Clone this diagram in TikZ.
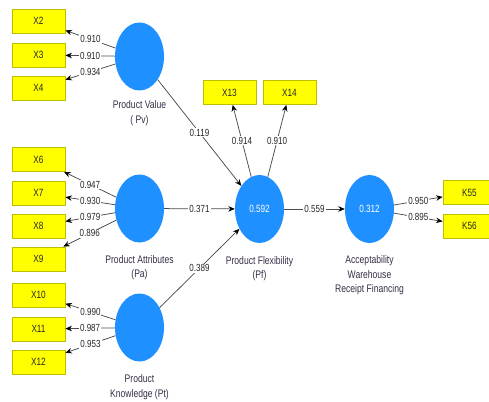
\documentclass[tikz,border=0pt]{standalone}
\usepackage{fontspec}
\setmainfont{Liberation Sans}[FakeStretch=0.78]
\usetikzlibrary{shapes.geometric,arrows.meta}
\definecolor{lvblue}{RGB}{30,144,255}
\definecolor{mvyellow}{RGB}{255,255,0}
\definecolor{mvborder}{RGB}{190,190,0}
\definecolor{txt}{RGB}{55,45,70}
\begin{document}
\begin{tikzpicture}[x=1pt,y=-1pt,
 lv/.style={ellipse,fill=lvblue,minimum width=49pt,minimum height=68pt,inner sep=0pt,text=white,font=\fontsize{10.5}{12}\selectfont},
 mv/.style={rectangle,fill=mvyellow,draw=mvborder,line width=0.8pt,minimum width=53pt,minimum height=24pt,inner sep=0pt,text=black!85,font=\fontsize{10.5}{12}\selectfont},
 lab/.style={align=center,text=txt,font=\fontsize{11}{14.5}\selectfont},
 arr/.style={draw=black!70,line width=0.75pt,-{Stealth[length=6.5pt,width=5.5pt,black]}},
 val/.style={fill=white,inner sep=1pt,text=black!85,font=\fontsize{10.3}{12}\selectfont,pos=0.5}
]
\useasboundingbox (0,0) rectangle (489,401);
\clip (0,0) rectangle (489,401);
% latent variables
\node[lv] (Pv) at (139.5,56.5) {};
\node[lv] (Pa) at (139.5,208.5) {};
\node[lv] (Pt) at (139.5,327.5) {};
\node[lv] (Pf) at (259.5,209) {0.592};
\node[lv] (Aw) at (369.5,209) {0.312};
% labels
\node[lab] (LPv) at (139.5,113) {Product Value\\( Pv)};
\node[lab] (LPa) at (139.5,267.5) {Product Attributes\\(Pa)};
\node[lab] (LPt) at (139.5,387) {Product\\Knowledge (Pt)};
\node[lab] (LPf) at (259.5,268.5) {Product Flexibility\\(Pf)};
\node[lab] (LAw) at (369.5,275.5) {Acceptability\\Warehouse\\Receipt Financing};
% indicators
\node[mv] (X2) at (38.5,21) {X2};
\node[mv] (X3) at (38.5,55) {X3};
\node[mv] (X4) at (38.5,88) {X4};
\node[mv] (X6) at (38.5,159.5) {X6};
\node[mv] (X7) at (38.5,193) {X7};
\node[mv] (X8) at (38.5,226) {X8};
\node[mv] (X9) at (38.5,259) {X9};
\node[mv] (X10) at (38.5,295) {X10};
\node[mv] (X11) at (38.5,329) {X11};
\node[mv] (X12) at (38.5,362) {X12};
\node[mv] (X13) at (229.5,92.5) {X13};
\node[mv] (X14) at (289.5,92.5) {X14};
\node[mv] (K55) at (469.5,192.5) {K55};
\node[mv] (K56) at (469.5,226) {K56};
% loadings
\draw[arr] (Pv) -- node[val]{0.910} (X2);
\draw[arr] (Pv) -- node[val]{0.910} (X3);
\draw[arr] (Pv) -- node[val]{0.934} (X4);
\draw[arr] (Pa) -- node[val]{0.947} (X6);
\draw[arr] (Pa) -- node[val]{0.930} (X7);
\draw[arr] (Pa) -- node[val]{0.979} (X8);
\draw[arr] (Pa) -- node[val]{0.896} (X9);
\draw[arr] (Pt) -- node[val]{0.990} (X10);
\draw[arr] (Pt) -- node[val]{0.987} (X11);
\draw[arr] (Pt) -- node[val]{0.953} (X12);
\draw[arr] (Pf) -- node[val]{0.914} (X13);
\draw[arr] (Pf) -- node[val]{0.910} (X14);
\draw[arr] (Aw) -- node[val]{0.950} (K55);
\draw[arr] (Aw) -- node[val]{0.895} (K56);
% paths
\draw[arr] (Pv) -- node[val]{0.119} (Pf);
\draw[arr] (Pa) -- node[val]{0.371} (Pf);
\draw[arr] (Pt) -- node[val]{0.389} (Pf);
\draw[arr] (Pf) -- node[val]{0.559} (Aw);
\end{tikzpicture}
\end{document}
